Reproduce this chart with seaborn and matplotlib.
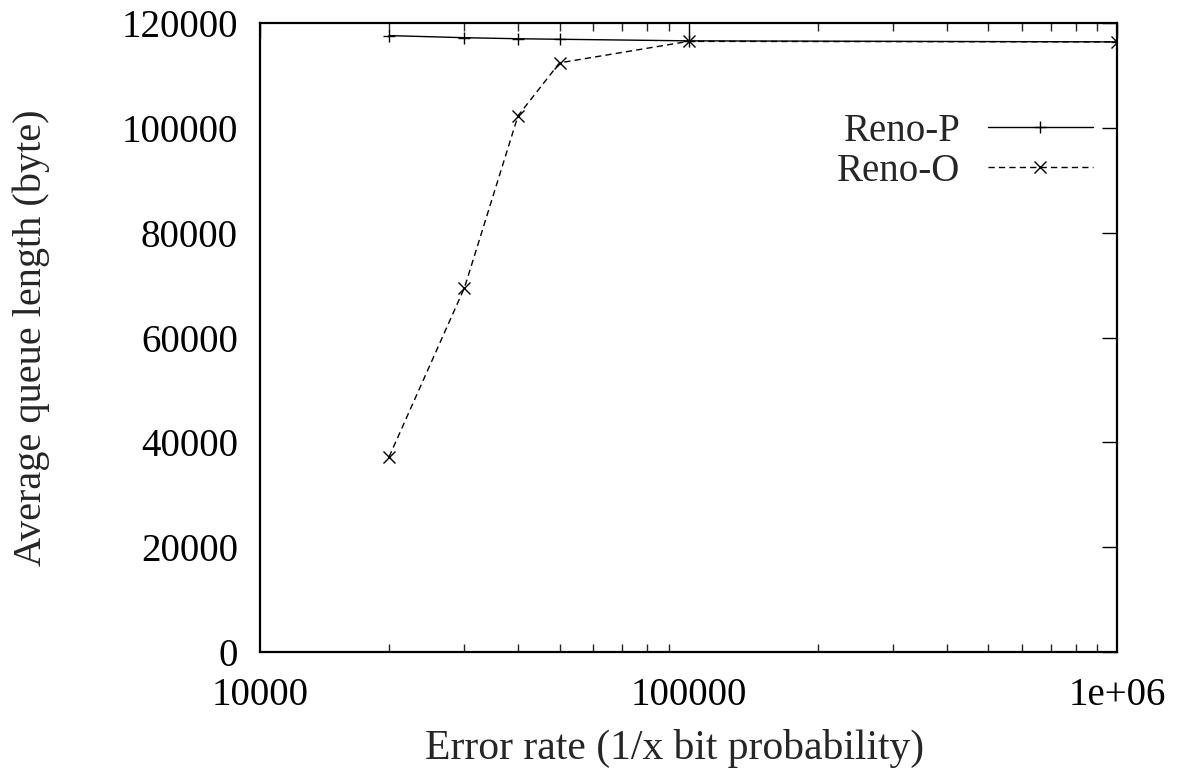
import matplotlib
matplotlib.use("Agg")
import matplotlib.pyplot as plt
import matplotlib.ticker as mticker
import seaborn as sns
import pandas as pd

# Error rate (1/x bit probability) and average queue length (bytes)
error_rate = [20000, 30000, 40000, 50000, 100000, 1000000]
reno_p = [117600, 117200, 117000, 116900, 116600, 116400]
reno_o = [37200, 69500, 102300, 112400, 116500, 116400]
series_names = ["Reno-P", "Reno-O"]
x_ticks = [10000, 100000, 1000000]
x_tick_labels = ["10000", "100000", "1e+06"]
y_ticks = [0, 20000, 40000, 60000, 80000, 100000, 120000]

df = pd.DataFrame({
    "x": error_rate * 2,
    "y": reno_p + reno_o,
    "series": [series_names[0]] * len(error_rate) + [series_names[1]] * len(error_rate),
})

sns.set_theme(style="white")
plt.rcParams["font.family"] = ["Liberation Serif", "DejaVu Serif"]

fig = plt.figure(figsize=(11.77, 7.75), dpi=100)
ax = fig.add_axes([0.2209, 0.1587, 0.7282, 0.8116])

sns.lineplot(
    data=df, x="x", y="y", style="series", hue="series",
    palette={"Reno-P": "black", "Reno-O": "black"},
    markers={"Reno-P": "+", "Reno-O": "x"},
    dashes={"Reno-P": "", "Reno-O": (4.5, 3)},
    markersize=9, markeredgewidth=1.0, markeredgecolor="black",
    linewidth=1.0, ax=ax, legend=False,
)

ax.set_xscale("log")
ax.set_xlim(10000, 1000000)
ax.set_ylim(0, 120000)
ax.set_xticks(x_ticks)
ax.set_xticklabels(x_tick_labels)
ax.xaxis.set_minor_locator(mticker.LogLocator(base=10, subs=range(2, 10)))
ax.xaxis.set_minor_formatter(mticker.NullFormatter())
ax.set_yticks(y_ticks)
ax.set_yticklabels([str(v) for v in y_ticks])

ax.tick_params(axis="both", which="major", direction="in", length=11, width=1.0,
               top=True, right=True, labelsize=28, colors="black")
ax.tick_params(axis="y", which="major", pad=16)
ax.tick_params(axis="x", which="major", pad=18)
ax.tick_params(axis="x", which="minor", direction="in", length=6, width=1.0,
               top=True, bottom=True)
for sp in ax.spines.values():
    sp.set_color("black")
    sp.set_linewidth(1.6)

ax.set_xlabel("Error rate (1/x bit probability)", fontsize=30, labelpad=11)
ax.xaxis.label.set_x(0.484)
ax.set_ylabel("Average queue length (byte)", fontsize=29, labelpad=51)

handles = ax.get_lines()[:2]
leg = ax.legend(handles, series_names, loc="upper right", bbox_to_anchor=(0.9895, 0.882),
                frameon=False, markerfirst=False, fontsize=28, handlelength=2.7,
                handletextpad=0.7, labelspacing=0.07, borderaxespad=0)

fig.savefig("out.png", dpi=100)
